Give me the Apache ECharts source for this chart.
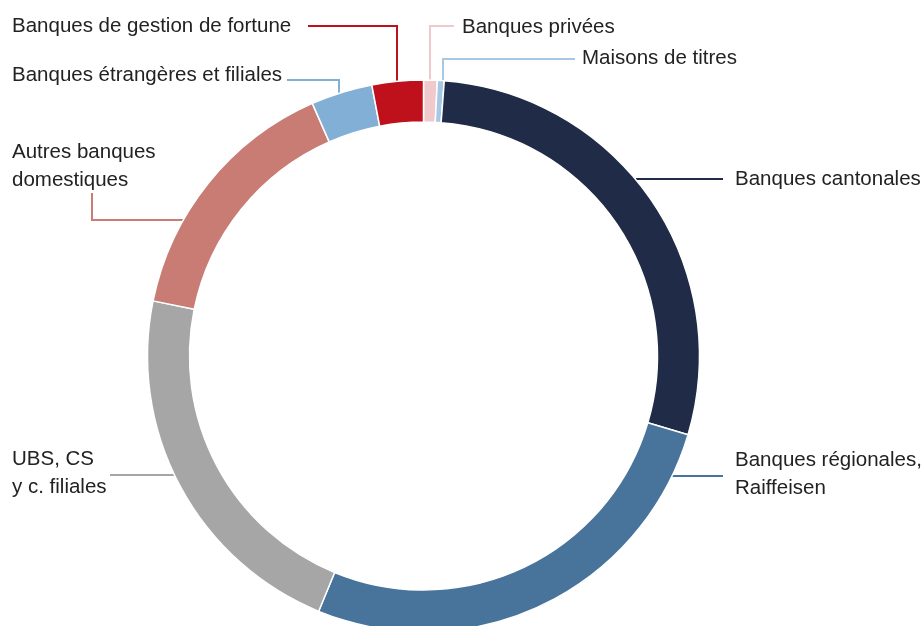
<!DOCTYPE html>
<html>
<head>
<meta charset="utf-8">
<script src="https://cdn.jsdelivr.net/npm/echarts@6/dist/echarts.min.js"></script>
<style>
  html, body { margin: 0; padding: 0; background: #fff; }
  #chart { width: 924px; height: 626px; }
</style>
</head>
<body>
<div id="chart"></div>
<script>
// parts in %, clockwise from 12 o'clock
const categories = [
  "Banques privées",
  "Maisons de titres",
  "Banques cantonales",
  "Banques régionales, Raiffeisen",
  "UBS, CS y c. filiales",
  "Autres banques domestiques",
  "Banques étrangères et filiales",
  "Banques de gestion de fortune"
];
const shares = [0.8, 0.4, 28.4, 26.6, 22.0, 15.2, 3.6, 3.0];
const labelTexts = [
  "Banques privées",
  "Maisons de titres",
  "Banques cantonales",
  "Banques régionales,\nRaiffeisen",
  "UBS, CS\ny c. filiales",
  "Autres banques\ndomestiques",
  "Banques étrangères et filiales",
  "Banques de gestion de fortune"
];
const colors = ["#f0c9cd", "#a7c8e4", "#1f2b47", "#48739a", "#a6a6a6", "#c87c74", "#82afd5", "#bf111b"];

// where each label sits + its leader line (same order as categories)
const labelPos = [
  { x: 462, y: 27,  line: [[430, 82], [430, 26], [454, 26]] },
  { x: 582, y: 58,  line: [[443, 82], [443, 59], [575, 59]] },
  { x: 735, y: 179, line: [[636, 179], [680, 179], [723, 179]] },
  { x: 735, y: 474, line: [[672, 476], [700, 476], [723, 476]] },
  { x: 12,  y: 473, line: [[175, 475], [140, 475], [110, 475]] },
  { x: 12,  y: 166, line: [[183, 220], [92, 220], [92, 193]] },
  { x: 12,  y: 75,  line: [[339, 93], [339, 80], [287, 80]] },
  { x: 12,  y: 26,  line: [[397, 82], [397, 26], [308, 26]] }
];

const chart = echarts.init(document.getElementById("chart"));

const option = {
  animation: false,
  series: [
    {
      type: "pie",
      center: [423.5, 356],
      radius: [234, 276],
      startAngle: 90,
      clockwise: true,
      avoidLabelOverlap: false,
      itemStyle: { borderColor: "#fff", borderWidth: 1.5 },
      label: {
        show: true,
        position: "outside",
        fontFamily: "Liberation Sans, Arial, sans-serif",
        fontSize: 20.5,
        lineHeight: 28,
        color: "#222",
        formatter: (p) => labelTexts[p.dataIndex]
      },
      labelLine: { show: true, length: 10, length2: 10, lineStyle: { width: 2 } },
      labelLayout: function (params) {
        const p = labelPos[params.dataIndex];
        return {
          x: p.x,
          y: p.y,
          align: "left",
          verticalAlign: "middle",
          labelLinePoints: p.line
        };
      },
      emphasis: { disabled: true },
      data: categories.map((name, i) => ({
        name: name,
        value: shares[i],
        itemStyle: { color: colors[i] }
      }))
    }
  ]
};

chart.setOption(option);
</script>
</body>
</html>
